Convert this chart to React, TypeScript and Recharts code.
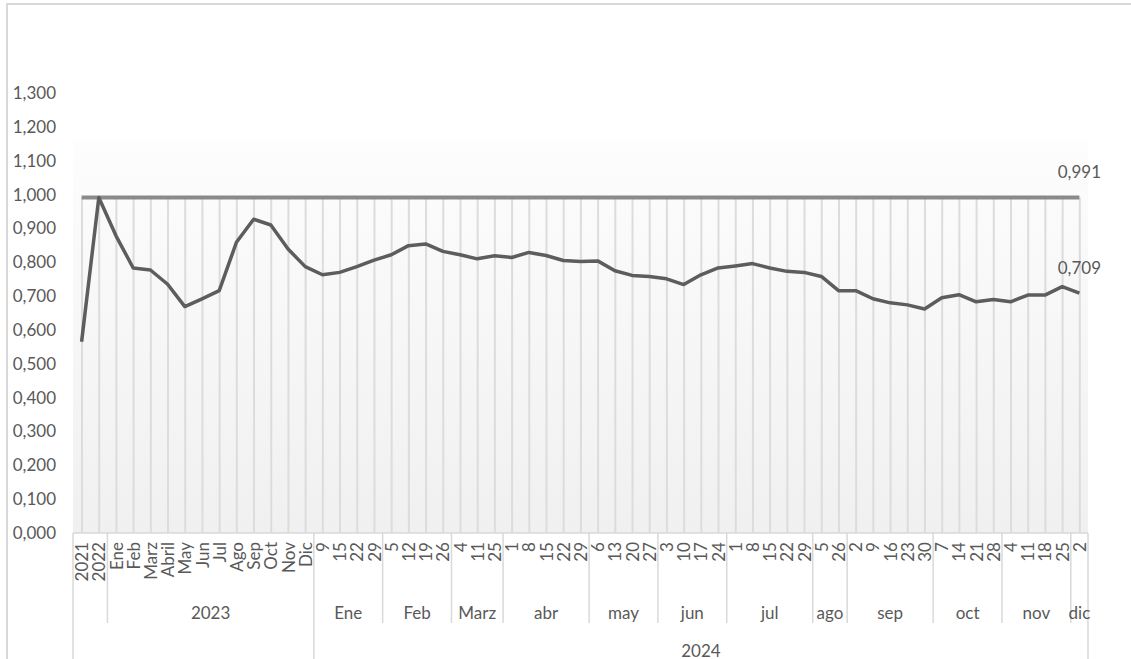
import {
  ComposedChart,
  Bar,
  Line,
  XAxis,
  YAxis,
  CartesianGrid,
  LabelList,
} from "recharts";

// level 1 of the category axis (one entry per point)
const periodLabels = [
  "2021", "2022",
  "Ene", "Feb", "Marz", "Abril", "May", "Jun", "Jul", "Ago", "Sep", "Oct", "Nov", "Dic",
  "9", "15", "22", "29",
  "5", "12", "19", "26",
  "4", "11", "25",
  "1", "8", "15", "22", "29",
  "6", "13", "20", "27",
  "3", "10", "17", "24",
  "1", "8", "15", "22", "29",
  "5", "26",
  "2", "9", "16", "23", "30",
  "7", "14", "21", "28",
  "4", "11", "18", "25",
  "2",
];

const rateValues = [
  0.565, 0.991,
  0.878, 0.783, 0.777, 0.735, 0.669, 0.692, 0.716, 0.859, 0.927, 0.91, 0.839, 0.787,
  0.763, 0.77, 0.787, 0.806,
  0.822, 0.849, 0.854, 0.832,
  0.822, 0.81, 0.819,
  0.814, 0.829, 0.82, 0.805, 0.802,
  0.804, 0.775, 0.761, 0.758,
  0.751, 0.734, 0.763, 0.783,
  0.789, 0.796, 0.783, 0.773, 0.77,
  0.758, 0.716,
  0.716, 0.692, 0.68, 0.674, 0.662,
  0.695, 0.704, 0.683, 0.69,
  0.683, 0.703, 0.703, 0.728,
  0.709,
];

const MAX_RATE = 0.991;

// level 2 groups start after "2021", "2022"
const monthGroups = ["2023", "Ene", "Feb", "Marz", "abr", "may", "jun", "jul", "ago", "sep", "oct", "nov", "dic"];
const monthSizes = [12, 4, 4, 3, 5, 4, 4, 5, 2, 5, 4, 4, 1];
const MONTHS_START = 2;

// level 3
const yearGroup = "2024";
const YEAR_START = 14;
const yearSize = 45;

const yTicks = [0, 0.1, 0.2, 0.3, 0.4, 0.5, 0.6, 0.7, 0.8, 0.9, 1.0, 1.1, 1.2, 1.3];

const W = 1131;
const H = 659;
const Y_AXIS_W = 73;
const X_AXIS_H = 126;
const MARGIN = { top: 93, right: 43, bottom: 0, left: 0 };
const STEP = (W - Y_AXIS_W - MARGIN.right) / periodLabels.length;

const FONT = "Lato, 'Open Sans', sans-serif";
const TEXT = "#595959";
const RULE = "#d9d9d9";

const data = periodLabels.map((label, i) => ({
  id: i,
  label,
  rate: rateValues[i],
  max: MAX_RATE,
}));

const groupStarts: Record<number, { label: string; size: number }> = {};
let cursor = MONTHS_START;
monthGroups.forEach((g, k) => {
  groupStarts[cursor] = { label: g, size: monthSizes[k] };
  cursor += monthSizes[k];
});

function PeriodTick(props: any) {
  const { x, y, payload } = props;
  const i = payload.value as number;
  const group = groupStarts[i];
  const left = x - STEP / 2;
  const right = x + STEP / 2;
  const longLine = i === 0 || i === YEAR_START;
  return (
    <g>
      <text
        x={x}
        y={y + 9}
        transform={`rotate(-90 ${x} ${y + 9})`}
        textAnchor="end"
        dominantBaseline="central"
        fontSize={17}
        fontFamily={FONT}
        fill={TEXT}
      >
        {periodLabels[i]}
      </text>
      {(group || i === 0) && (
        <line x1={left} x2={left} y1={y} y2={longLine ? H : y + 90} stroke={RULE} strokeWidth={1.5} />
      )}
      {i === periodLabels.length - 1 && (
        <line x1={right} x2={right} y1={y} y2={H} stroke={RULE} strokeWidth={1.5} />
      )}
      {group && (
        <text
          x={x + ((group.size - 1) * STEP) / 2}
          y={y + 79}
          textAnchor="middle"
          dominantBaseline="central"
          fontSize={17}
          fontFamily={FONT}
          fill={TEXT}
        >
          {group.label}
        </text>
      )}
      {i === YEAR_START && (
        <text
          x={x + ((yearSize - 1) * STEP) / 2}
          y={y + 117}
          textAnchor="middle"
          dominantBaseline="central"
          fontSize={17}
          fontFamily={FONT}
          fill={TEXT}
        >
          {yearGroup}
        </text>
      )}
    </g>
  );
}

const lastLabel = (props: any) => {
  const { x, y, value, index } = props;
  if (index !== periodLabels.length - 1) return null;
  return (
    <text
      x={x}
      y={y - 26}
      textAnchor="middle"
      dominantBaseline="central"
      fontSize={17}
      fontFamily={FONT}
      fill={TEXT}
    >
      {Number(value).toFixed(3).replace(".", ",")}
    </text>
  );
};

export default function App() {
  return (
    <div style={{ position: "absolute", left: 0, top: 0, width: W, height: H, background: "#fff" }}>
      <div
        style={{
          position: "absolute",
          left: 6,
          top: 3,
          right: 0,
          bottom: 0,
          borderTop: `2px solid ${RULE}`,
          borderLeft: `2px solid ${RULE}`,
        }}
      />
      <div style={{ position: "absolute", left: 0, top: 0 }}>
        <ComposedChart width={W} height={H} data={data} margin={MARGIN} barSize={2}>
          <defs>
            <linearGradient id="plotBg" x1="0" y1="0" x2="0" y2="1">
              <stop offset="0" stopColor="#ffffff" />
              <stop offset="0.108" stopColor="#ffffff" />
              <stop offset="0.11" stopColor="#fdfdfd" />
              <stop offset="1" stopColor="#f0f0f0" />
            </linearGradient>
          </defs>
          <CartesianGrid horizontal={false} vertical={false} fill="url(#plotBg)" fillOpacity={1} />
          <XAxis
            dataKey="id"
            type="category"
            interval={0}
            height={X_AXIS_H}
            tick={<PeriodTick />}
            tickLine={false}
            tickSize={0}
            tickMargin={0}
            axisLine={{ stroke: RULE, strokeWidth: 1.5 }}
          />
          <YAxis
            width={Y_AXIS_W}
            domain={[0, 1.3]}
            ticks={yTicks}
            interval={0}
            axisLine={false}
            tickLine={false}
            tickSize={0}
            tickMargin={17}
            tick={{ fontSize: 17, fontFamily: FONT, fill: TEXT }}
            tickFormatter={(v: number) => v.toFixed(3).replace(".", ",")}
          />
          <Bar dataKey="max" fill="#dcdcdc" isAnimationActive={false} />
          <Line
            dataKey="max"
            stroke="#8a8a8a"
            strokeWidth={4}
            dot={false}
            isAnimationActive={false}
          >
            <LabelList dataKey="max" content={lastLabel} />
          </Line>
          <Line
            dataKey="rate"
            stroke="#5d5d5d"
            strokeWidth={3.5}
            strokeLinejoin="round"
            dot={false}
            isAnimationActive={false}
          >
            <LabelList dataKey="rate" content={lastLabel} />
          </Line>
        </ComposedChart>
      </div>
    </div>
  );
}
